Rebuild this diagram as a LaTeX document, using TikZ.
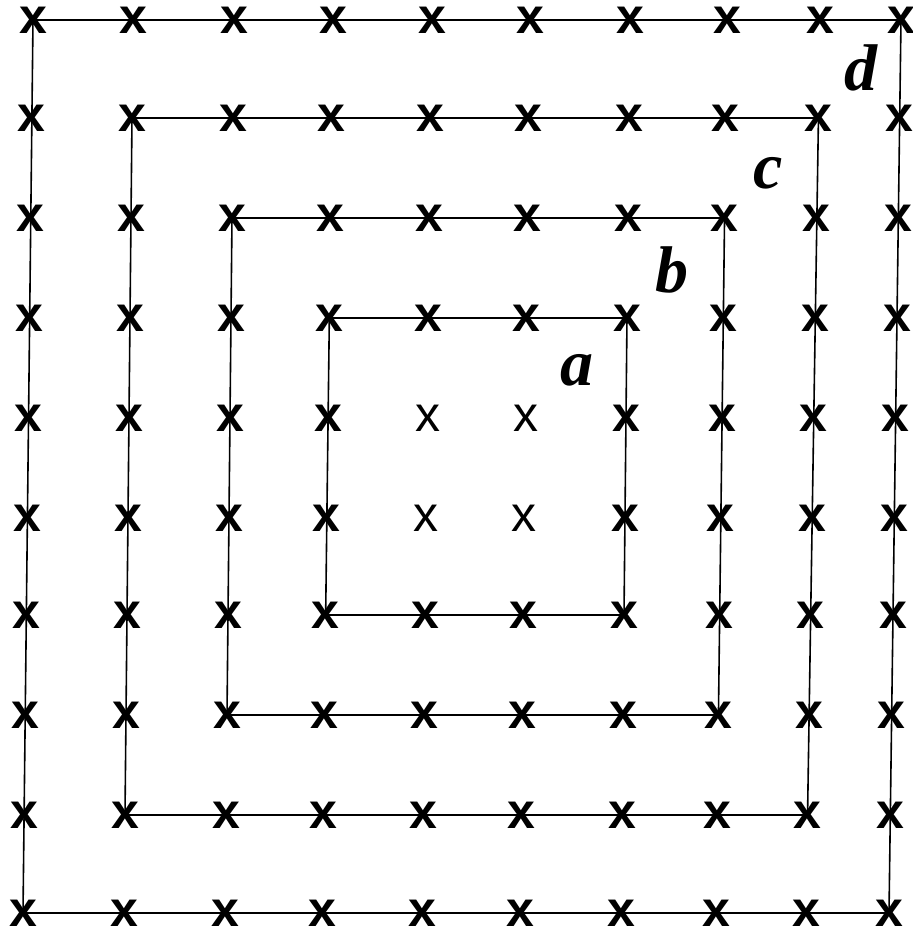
\documentclass[tikz,border=0pt]{standalone}
\usepackage{fontspec}
\setmainfont{Liberation Sans}
\newfontfamily\labelfont{Liberation Serif}
\begin{document}
\begin{tikzpicture}[x=1pt,y=-1pt,
  gridx/.style={inner sep=0pt, font=\fontsize{50}{50}\selectfont\bfseries},
  innerx/.style={inner sep=0pt, font=\fontsize{50}{50}\selectfont},
  sq/.style={line width=1.6pt},
  lbl/.style={inner sep=0pt, font=\labelfont\bfseries\itshape\fontsize{66}{66}\selectfont}]
\useasboundingbox (0,0) rectangle (913,932);
\def\tops{{33,133,234,333,432,530,630,727,820,901}}
\def\bots{{23,124,225,322,422,520,621,716,806,889}}
\def\rowsy{{20,118,218,318,418,518,615,715,815,913}}
\foreach \i in {0,...,9}{
  \foreach \j in {0,...,9}{
    \pgfmathsetmacro\px{\tops[\i]+(\bots[\i]-\tops[\i])*\j/9}
    \pgfmathsetmacro\py{\rowsy[\j]}
    \pgfmathtruncatemacro\isin{(\i>3)*(\i<6)*(\j>3)*(\j<6)}
    \ifnum\isin=1
      \node[innerx] (m-\i-\j) at (\px,\py) {x};
    \else
      \node[gridx] (m-\i-\j) at (\px,\py) {x};
    \fi
  }
}
\foreach \k/\l in {0/9,1/8,2/7,3/6}{
  \draw[sq] (m-\k-\k.center) -- (m-\l-\k.center) -- (m-\l-\l.center) -- (m-\k-\l.center) -- cycle;
}
\node[lbl] (ld) at (861,68) {d};
\node[lbl] (lc) at (768,173) {c};
\node[lbl] (lb) at (672,270) {b};
\node[lbl] (la) at (577,370) {a};
\end{tikzpicture}
\end{document}
